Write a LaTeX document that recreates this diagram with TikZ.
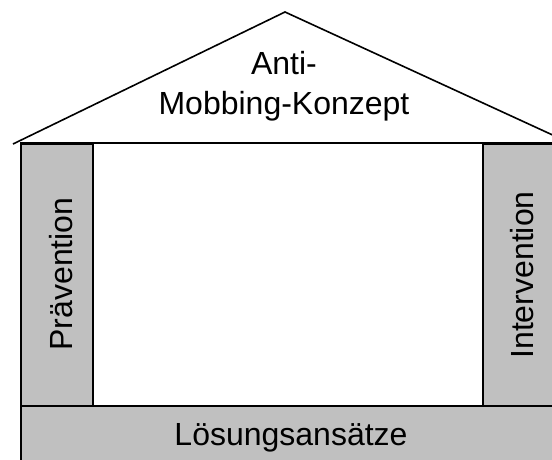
\documentclass[tikz,border=0pt]{standalone}
\usepackage{fontspec}
\setmainfont{Liberation Sans}
\definecolor{pillargray}{RGB}{192,192,192}
\tikzset{
  part/.style={draw, fill=pillargray, line width=1.6pt},
  houseline/.style={line width=1.6pt},
  bigtext/.style={font=\fontsize{32}{38}\selectfont, inner sep=0pt}
}

\begin{document}
\begin{tikzpicture}[x=1pt,y=-1pt]
  \useasboundingbox (0,0) rectangle (552,460);
  \clip (0,0) rectangle (552,460);
  % roof and ceiling
  \draw[houseline] (13,144)--(285,12)--(570,143);
  \draw[houseline] (20,143)--(560,143);
  % pillars and base
  \draw[part] (21,144) rectangle (93,406);
  \draw[part] (483,144) rectangle (570,406);
  \draw[part] (21,406) rectangle (570,480);
  % texts
  \node[bigtext, anchor=base] (anti) at (284,75) {Anti-};
  \node[bigtext, anchor=base] (mobbing) at (284,114) {Mobbing-Konzept};
  \node[bigtext, anchor=base, rotate=90] (praev) at (72,274) {Prävention};
  \node[bigtext, anchor=base, rotate=90] (interv) at (533,275) {Intervention};
  \node[bigtext, anchor=base] (loesung) at (291,445) {Lösungsansätze};
\end{tikzpicture}
\end{document}
